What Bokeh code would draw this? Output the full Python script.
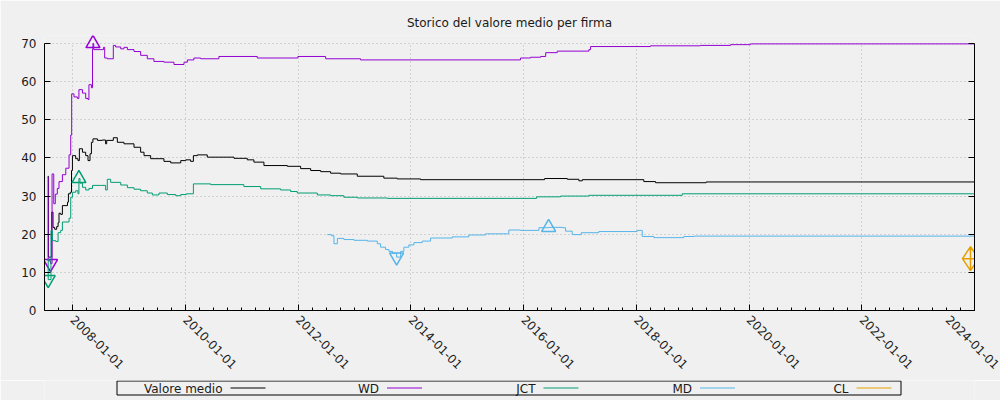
from datetime import datetime, timezone
import math
from bokeh.plotting import figure
from bokeh.models import (Range1d, FixedTicker, DatetimeTickFormatter, LinearAxis,
                          CustomJSTickFormatter, Grid)
from bokeh.layouts import column
from bokeh.embed import file_html
from bokeh.resources import INLINE
from bokeh.core.properties import value

# ---------------- data ----------------
media_dates = ["2007-07-24","2007-07-27","2007-08-18","2007-08-26","2007-09-06","2007-09-19","2007-09-28",
               "2007-10-04","2007-10-15","2007-10-26","2007-11-28","2007-12-04","2007-12-16","2007-12-24",
               "2007-12-30","2008-01-20","2008-02-04","2008-02-13","2008-03-04","2008-03-25","2008-04-09",
               "2008-04-22","2008-05-01","2008-05-11","2008-06-09","2008-07-11","2008-08-01","2008-08-08",
               "2008-09-20","2008-10-16","2008-11-28","2009-02-01","2009-03-16","2009-04-07","2009-05-20",
               "2009-08-14","2009-09-27","2009-12-01","2010-01-02","2010-02-03","2010-02-21","2010-03-18",
               "2010-05-22","2010-11-11","2011-02-05","2011-03-20","2011-05-24","2011-10-23","2012-01-17",
               "2012-03-22","2012-05-26","2012-07-29","2012-10-02","2013-01-18","2013-07-09","2013-10-04",
               "2014-03-04","2016-05-16","2016-10-10","2016-12-24","2017-01-15","2018-02-18","2018-05-05",
               "2019-03-29","2024-01-01"]
media_values = [35.2,14.0,25.8,21.8,21.3,22.0,23.0,25.5,25.2,27.5,28.4,30.6,31.0,36.7,40.6,39.8,39.3,42.4,
                41.5,40.6,39.3,41.1,44.1,45.0,44.6,44.7,43.7,44.6,45.3,44.1,43.7,42.8,41.5,40.6,39.8,39.1,
                38.7,39.3,39.5,39.1,40.6,40.8,40.2,39.9,39.5,38.9,38.0,37.8,37.2,36.7,36.4,36.0,35.8,35.2,
                34.7,34.5,34.3,34.6,34.4,34.0,34.3,33.8,33.5,33.7,33.7]

wd_dates = ["2007-07-22","2007-07-26","2007-08-10","2007-08-20","2007-08-31","2007-09-10","2007-09-23",
            "2007-10-04","2007-10-26","2007-11-17","2007-12-08","2007-12-19","2007-12-25","2008-01-09",
            "2008-01-31","2008-02-10","2008-03-04","2008-03-25","2008-04-09","2008-04-15","2008-05-01",
            "2008-05-08","2008-05-11","2008-05-16","2008-07-18","2008-07-26","2008-08-12","2008-09-20",
            "2008-10-05","2008-11-07","2008-11-28","2008-12-20","2009-02-01","2009-03-16","2009-04-28",
            "2009-06-10","2009-08-14","2009-10-18","2009-12-22","2010-01-13","2010-02-24","2010-04-09",
            "2010-08-05","2011-04-11","2011-12-30","2012-06-27","2013-02-08","2015-12-12","2016-02-15",
            "2016-04-20","2016-05-23","2016-08-06","2017-02-27","2017-03-10","2018-04-02","2019-02-20",
            "2019-09-03","2020-01-10","2024-01-01"]
wd_values = [35.0,13.0,12.3,35.8,28.0,30.5,32.0,33.8,35.6,37.3,40.8,46.0,56.8,56.0,55.6,57.9,57.0,55.6,
             55.3,59.2,58.4,68.5,70.0,68.4,69.0,66.2,66.0,69.5,69.1,68.6,69.0,68.4,67.9,66.9,66.0,65.3,
             65.1,64.5,65.1,65.7,66.2,66.0,66.6,66.2,66.6,66.0,65.7,66.2,66.4,66.6,67.6,68.0,68.4,69.2,
             69.4,69.5,69.7,69.9,69.9]

jct_dates = ["2007-07-20","2007-07-26","2007-08-13","2007-08-22","2007-09-13","2007-09-28","2007-10-15",
             "2007-10-26","2007-12-08","2007-12-19","2007-12-30","2008-01-20","2008-02-04","2008-02-10",
             "2008-02-17","2008-03-04","2008-03-25","2008-04-15","2008-05-08","2008-06-30","2008-08-01",
             "2008-08-12","2008-09-03","2008-11-07","2008-12-20","2009-02-01","2009-03-16","2009-04-28",
             "2009-05-31","2009-07-13","2009-09-05","2009-10-29","2009-12-01","2010-01-08","2010-02-21",
             "2010-06-13","2011-01-14","2011-05-03","2011-09-09","2011-11-13","2011-12-26","2012-05-04",
             "2012-07-29","2012-10-23","2013-01-18","2013-07-31","2016-03-25","2016-08-27","2017-02-27",
             "2018-10-25","2024-01-01"]
jct_values = [13.5,8.1,21.0,18.3,18.1,20.4,21.0,23.2,24.2,29.7,31.0,31.4,30.6,34.6,33.4,32.3,31.6,32.0,
              32.8,32.8,31.6,34.4,33.6,32.9,32.2,31.8,31.4,30.8,30.3,30.8,30.4,30.1,30.4,30.6,33.2,33.0,
              32.5,31.9,31.6,31.2,30.8,30.3,30.1,29.7,29.5,29.4,29.8,30.0,30.2,30.6,30.6]

md_dates = ["2012-07-08","2012-08-03","2012-08-20","2012-09-11","2012-10-23","2012-12-28","2013-03-24",
            "2013-05-28","2013-06-18","2013-07-20","2013-08-11","2013-09-04","2013-09-30","2013-10-26",
            "2013-11-16","2013-12-18","2014-01-20","2014-03-15","2014-05-08","2014-09-26","2015-01-11",
            "2015-04-29","2015-09-27","2015-12-12","2016-04-09","2016-06-11","2016-09-07","2016-09-29",
            "2016-11-11","2017-01-09","2017-05-02","2018-01-06","2018-02-08","2018-04-24","2018-11-04",
            "2019-01-08","2024-01-01"]
md_values = [19.9,19.6,17.5,18.9,18.6,18.4,18.2,17.5,16.6,16.0,15.5,15.0,14.0,15.5,16.6,17.2,17.8,18.2,
             19.0,19.3,19.8,20.1,21.1,21.0,21.7,21.8,21.7,20.8,19.9,20.4,20.7,21.0,19.4,19.1,19.4,19.5,19.5]

cl_dates = ["2023-12-06"]
cl_values = [13.6]

series_names = ["Valore medio", "WD", "JCT", "MD", "CL"]
series_colors = ["#000000", "#9400d3", "#009e73", "#56b4e9", "#e69f00"]
series_dates = [media_dates, wd_dates, jct_dates, md_dates, cl_dates]
series_values = [media_values, wd_values, jct_values, md_values, cl_values]
series_markers = [False, True, True, True, True]

major_years = list(range(2008, 2025, 2))
y_ticks = [0, 10, 20, 30, 40, 50, 60, 70]
title_text = "Storico del valore medio per firma"

# ---------------- helpers ----------------
def d(s):
    return datetime.strptime(s, "%Y-%m-%d")

def ms(dt):
    return dt.replace(tzinfo=timezone.utc).timestamp() * 1000.0

FONT = "DejaVu Sans"
FS = "12px"
BG = "#f0f0f0"
TXT = "#1a1a1a"
Y_TOP = 72.1   # small headroom above 70 so top markers are not clipped

# ---------------- main figure ----------------
p = figure(width=1000, height=380, x_axis_type="datetime", output_backend="svg",
           toolbar_location=None,
           x_range=Range1d(d("2007-07-02"), d("2024-01-01")), y_range=Range1d(0, Y_TOP),
           min_border_left=44, min_border_right=26, min_border_top=35, min_border_bottom=70,
           background_fill_color=BG, border_fill_color=BG, outline_line_color=None)

p.title.text = title_text
p.title.align = "center"
p.title.text_font = FONT
p.title.text_font_size = FS
p.title.text_font_style = "normal"
p.title.text_color = TXT
p.title.standoff = 12

major_ticks = [ms(datetime(y, 1, 1)) for y in major_years]
minor_ticks = []
for y in range(2007, 2024):
    for m in (1, 4, 7, 10):
        minor_ticks.append(ms(datetime(y, m, 1)))
minor_ticks.append(ms(datetime(2024, 1, 1)))
xticker = FixedTicker(ticks=major_ticks, minor_ticks=minor_ticks)
fmt = "%Y-%m-%d"
p.xaxis.ticker = xticker
p.xaxis.formatter = DatetimeTickFormatter(years=fmt, months=fmt, days=fmt, hours=fmt, hourmin=fmt,
                                          minutes=fmt, minsec=fmt, seconds=fmt, milliseconds=fmt,
                                          microseconds=fmt)
p.xaxis.major_label_orientation = -math.pi / 4

yticker = FixedTicker(ticks=y_ticks)
p.yaxis.ticker = yticker
p.yaxis.bounds = (0, 70)

for ax in (p.xaxis[0], p.yaxis[0]):
    ax.axis_line_color = "black"
    ax.axis_line_width = 1
    ax.major_tick_line_color = "black"
    ax.minor_tick_line_color = "black"
    ax.major_tick_in = 6
    ax.major_tick_out = 0
    ax.minor_tick_in = 3
    ax.minor_tick_out = 0
    ax.major_label_text_font = FONT
    ax.major_label_text_font_size = FS
    ax.major_label_text_color = TXT
p.yaxis.major_label_standoff = 8
p.xaxis.major_label_standoff = 7

rax = LinearAxis(ticker=yticker, formatter=CustomJSTickFormatter(code="return ''"), bounds=(0, 70))
rax.axis_line_color = "black"
rax.major_tick_line_color = "black"
rax.major_tick_in = 6
rax.major_tick_out = 0
rax.minor_tick_line_color = None
rax.major_label_standoff = 0
p.add_layout(rax, "right")

for g in (p.xgrid[0], p.ygrid[0]):
    g.grid_line_color = "#b4b4b4"
    g.grid_line_dash = "1 3"
    g.grid_line_width = 1
p.xgrid.ticker = xticker
p.ygrid.ticker = yticker
if "cross_bounds" in Grid.properties():
    p.xgrid[0].cross_bounds = (0, 70)

for name, color, ds, vs, mk in zip(series_names, series_colors, series_dates, series_values, series_markers):
    xs = [d(s) for s in ds]
    if len(xs) > 1:
        p.step(xs, vs, mode="after", line_color=color, line_width=1)
    if mk:
        imax = max(range(len(vs)), key=lambda i: vs[i])
        imin = min(range(len(vs)), key=lambda i: vs[i])
        if imax == imin:
            p.scatter([xs[imax]], [vs[imax]], marker="diamond_cross", size=24, fill_color=None,
                      line_color=color, line_width=1.5)
        else:
            p.scatter([xs[imax]], [vs[imax]], marker="triangle", size=14, fill_color=None,
                      line_color=color, line_width=1.5)
            p.scatter([xs[imin]], [vs[imin]], marker="inverted_triangle", size=14, fill_color=None,
                      line_color=color, line_width=1.5)

# ---------------- legend strip (frame aligned with the chart frame: x 44..974 px) ----------------
lg = figure(width=1000, height=20, output_backend="svg", toolbar_location=None,
            x_range=Range1d(44, 974), y_range=Range1d(20, 0),
            x_axis_location=None, y_axis_location=None,
            min_border_left=0, min_border_right=0, min_border_top=0, min_border_bottom=0,
            background_fill_color=BG, border_fill_color=BG, outline_line_color=None)
lg.grid.visible = False
lg.quad(left=116.5, right=900.5, top=0.5, bottom=14.5, fill_color=None, line_color="black", line_width=1)
step = 156.5
for i, (name, color) in enumerate(zip(series_names, series_colors)):
    tx = 222 + i * step
    lg.text([tx], [8], text=[name], text_align="right", text_baseline="middle",
            text_font=value(FONT), text_font_size=FS, text_color=TXT)
    lg.segment([tx + 8], [7.5], [tx + 43], [7.5], line_color=color, line_width=1)

layout = column(p, lg, spacing=0)
open("out.html", "w").write(file_html(layout, INLINE))
